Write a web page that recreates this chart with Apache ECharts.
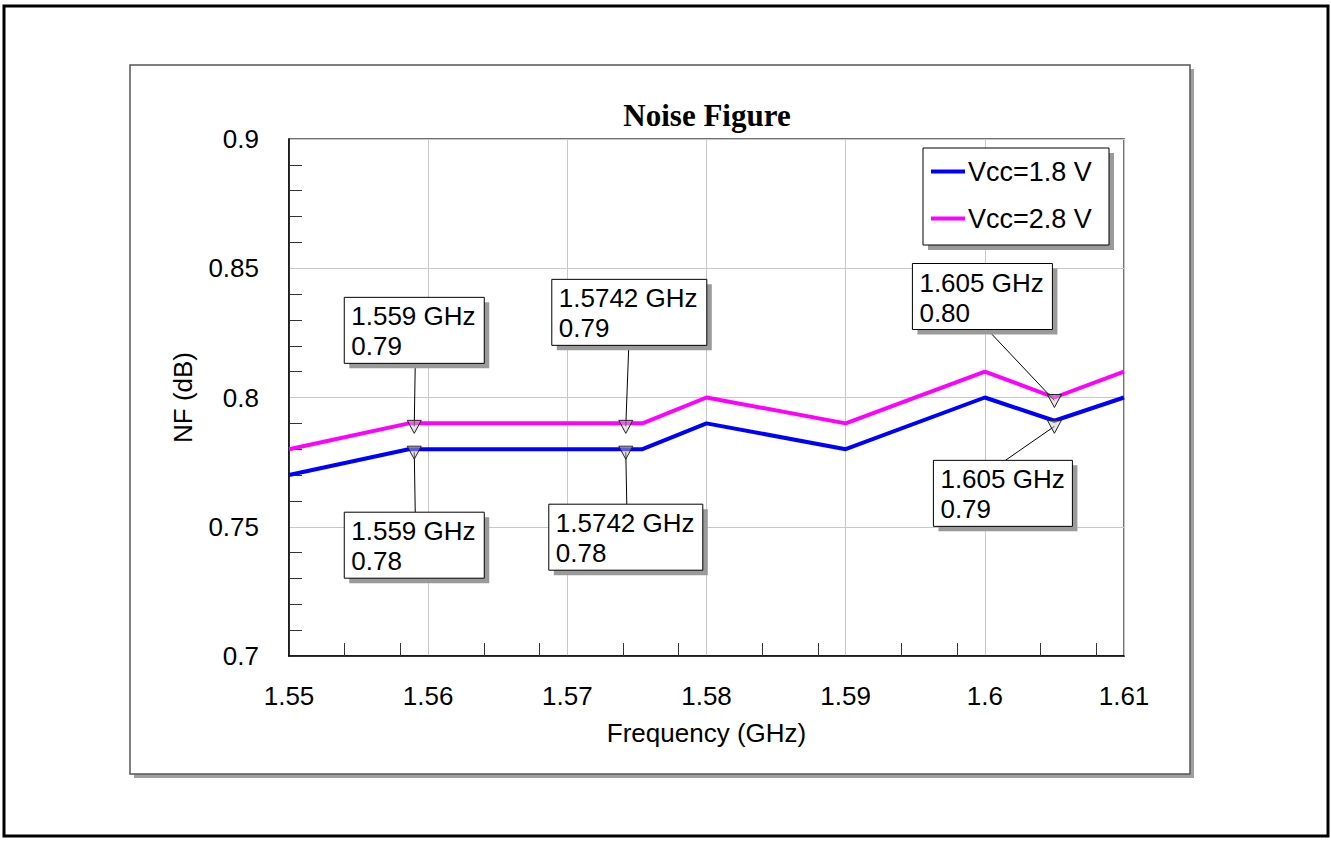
<!DOCTYPE html>
<html><head><meta charset="utf-8">
<script src="https://cdn.jsdelivr.net/npm/echarts@6/dist/echarts.min.js"></script>
<style>html,body{margin:0;padding:0;background:#fff}#c{width:1331px;height:841px}</style>
</head><body><div id="c"></div>
<script>
// ---- data ----
const freqs = [1.55, 1.5586, 1.5754, 1.58, 1.59, 1.6, 1.605, 1.61];
const nf18 = [0.77, 0.78, 0.78, 0.79, 0.78, 0.80, 0.791, 0.80];
const nf28 = [0.78, 0.79, 0.79, 0.80, 0.79, 0.81, 0.80, 0.81];
const seriesNames = ['Vcc=1.8 V', 'Vcc=2.8 V'];
const xMinorTicks = [1.554, 1.558, 1.564, 1.568, 1.574, 1.578, 1.584, 1.588, 1.594, 1.598, 1.604, 1.608];
const annoFreqs = [1.559, 1.5742, 1.605];
const anno18 = [0.78, 0.78, 0.79];
const anno28 = [0.79, 0.79, 0.80];

// ---- layout (pixel offsets of annotation boxes relative to their marker) ----
const annoLayout18 = [{dx:-70, dy:63, w:140, ax:1}, {dx:-77, dy:55, w:154, ax:1}, {dx:-121, dy:37, w:139, ax:-49}];
const annoLayout28 = [{dx:-70, dy:-126, w:140, ax:1}, {dx:-74, dy:-144, w:155, ax:3}, {dx:-142, dy:-134, w:140, ax:-67}];

const SANS = '"Liberation Sans", Arial, sans-serif';
const FS = 26;
const chart = echarts.init(document.getElementById('c'), null, {renderer: 'svg'});

function annoSeries(name, vals, layout) {
  return {
    type: 'custom', name: name, coordinateSystem: 'cartesian2d', clip: false, silent: true, z: 5,
    data: annoFreqs.map((f, i) => [f, vals[i]]),
    encode: {x: 0, y: 1},
    renderItem: function (params, api) {
      const i = params.dataIndex;
      const p = api.coord([api.value(0), api.value(1)]);
      const L = layout[i];
      const H = 66;
      const bx = p[0] + L.dx, by = p[1] + L.dy;
      const above = L.dy < 0;
      const ay = above ? by + H : by;
      const text = api.value(0) + ' GHz\n' + Number(api.value(1)).toFixed(2);
      return {type: 'group', children: [
        {type: 'line', shape: {x1: p[0] + L.ax, y1: ay, x2: p[0], y2: p[1] + 3}, style: {stroke: '#000', lineWidth: 1}},
        {type: 'polygon', shape: {points: [[p[0] - 7, p[1] - 3], [p[0] + 7, p[1] - 3], [p[0], p[1] + 10]]},
          style: {fill: 'rgba(200,200,200,0.45)', stroke: '#222', lineWidth: 1}},
        {type: 'rect', shape: {x: bx + 5, y: by + 5, width: L.w, height: H}, style: {fill: '#9a9a9a'}},
        {type: 'rect', shape: {x: bx, y: by, width: L.w, height: H}, style: {fill: '#fff', stroke: '#000', lineWidth: 1}},
        {type: 'text', x: bx + 7, y: by + H / 2 + 1, style: {text: text, fill: '#000', fontSize: FS, fontFamily: SANS,
          align: 'left', verticalAlign: 'middle', lineHeight: 30}}
      ]};
    }
  };
}

const option = {
  animation: false,
  backgroundColor: '#fff',
  graphic: [
    {type: 'rect', z: -10, shape: {x: 4, y: 6, width: 1324, height: 830}, style: {fill: '#fff', stroke: '#000', lineWidth: 3}},
    {type: 'rect', z: -9, shape: {x: 134, y: 69, width: 1060, height: 709}, style: {fill: '#a0a0a0'}},
    {type: 'rect', z: -8, shape: {x: 130, y: 65, width: 1060, height: 709}, style: {fill: '#fff', stroke: '#555', lineWidth: 1.5}},
    {type: 'text', z: 10, x: 707, y: 115, style: {text: 'Noise Figure', fill: '#000', fontSize: 31, fontWeight: 'bold',
      fontFamily: '"Liberation Serif", "Times New Roman", serif', align: 'center', verticalAlign: 'middle'}},
    {type: 'rect', z: 8, shape: {x: 928, y: 153, width: 186, height: 97}, style: {fill: '#9a9a9a'}},
    {type: 'rect', z: 8, shape: {x: 923, y: 148, width: 186, height: 97}, style: {fill: '#fff', stroke: '#000', lineWidth: 1}}
  ],
  grid: {left: 289, top: 139, width: 835, height: 517, show: true, borderColor: '#444', borderWidth: 1.5, backgroundColor: 'transparent'},
  legend: {
    left: 931, top: 158, orient: 'vertical', z: 20, icon: 'rect', itemWidth: 34, itemHeight: 4, itemGap: 20, padding: 0,
    selectedMode: false, data: seriesNames,
    textStyle: {fontSize: 27, fontFamily: SANS, color: '#000', padding: [0, 0, 0, -2]}
  },
  xAxis: [{
    type: 'value', min: 1.55, max: 1.61, interval: 0.01,
    name: 'Frequency (GHz)', nameLocation: 'middle', nameGap: 64,
    nameTextStyle: {fontSize: FS, fontFamily: SANS, color: '#000'},
    axisLine: {show: true, onZero: false, lineStyle: {color: '#000', width: 1.5}},
    axisTick: {show: false},
    axisLabel: {fontSize: FS, fontFamily: SANS, color: '#000', margin: 27},
    splitLine: {show: true, lineStyle: {color: '#c8c8c8', width: 1}}
  }, {
    type: 'value', min: 1.55, max: 1.61, position: 'bottom',
    axisLine: {show: false}, axisLabel: {show: false}, splitLine: {show: false},
    axisTick: {show: true, inside: true, length: 13, customValues: xMinorTicks, lineStyle: {color: '#333', width: 1}}
  }],
  yAxis: {
    type: 'value', min: 0.7, max: 0.9, interval: 0.05,
    name: 'NF (dB)', nameLocation: 'middle', nameGap: 93,
    nameTextStyle: {fontSize: FS, fontFamily: SANS, color: '#000'},
    axisLine: {show: true, onZero: false, lineStyle: {color: '#000', width: 1.5}},
    axisTick: {show: false, inside: true},
    minorTick: {show: true, splitNumber: 5, length: 13, lineStyle: {color: '#333', width: 1}},
    axisLabel: {fontSize: FS, fontFamily: SANS, color: '#000', margin: 30},
    splitLine: {show: true, lineStyle: {color: '#c8c8c8', width: 1}}
  },
  series: [
    {type: 'line', name: seriesNames[0], data: freqs.map((f, i) => [f, nf18[i]]), symbol: 'none', z: 3,
      lineStyle: {color: '#0000ff', width: 4}, itemStyle: {color: '#0000ff'}},
    {type: 'line', name: seriesNames[1], data: freqs.map((f, i) => [f, nf28[i]]), symbol: 'none', z: 3,
      lineStyle: {color: '#ff00ff', width: 4}, itemStyle: {color: '#ff00ff'}},
    annoSeries('markers 1.8', anno18, annoLayout18),
    annoSeries('markers 2.8', anno28, annoLayout28)
  ]
};
chart.setOption(option);
</script></body></html>
